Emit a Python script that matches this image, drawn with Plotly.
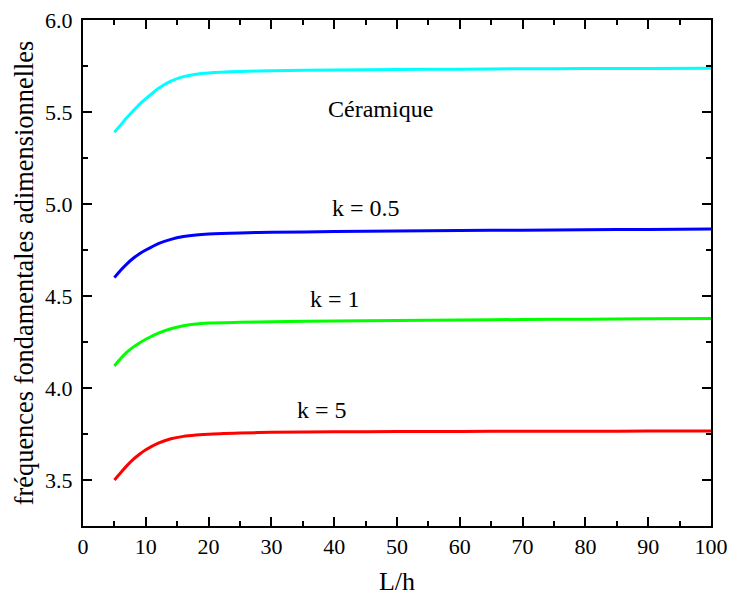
import plotly.graph_objects as go

L_h = [5, 6, 7, 8, 9, 10, 12, 14, 16, 18, 20, 25, 30, 40, 50, 60, 70, 80, 90, 100]
ceramique = [5.39, 5.43, 5.47, 5.507, 5.542, 5.572, 5.628, 5.668, 5.692, 5.705, 5.712, 5.72, 5.724, 5.728, 5.731, 5.733, 5.735, 5.736, 5.737, 5.738]
k05 = [4.60, 4.64, 4.675, 4.705, 4.73, 4.75, 4.785, 4.808, 4.823, 4.832, 4.837, 4.843, 4.846, 4.850, 4.853, 4.856, 4.858, 4.860, 4.862, 4.864]
k1 = [4.12, 4.16, 4.195, 4.222, 4.245, 4.265, 4.298, 4.322, 4.338, 4.348, 4.353, 4.357, 4.360, 4.364, 4.367, 4.370, 4.372, 4.374, 4.376, 4.378]
k5 = [3.50, 3.54, 3.578, 3.612, 3.64, 3.664, 3.70, 3.724, 3.737, 3.744, 3.749, 3.755, 3.759, 3.762, 3.763, 3.764, 3.765, 3.765, 3.766, 3.766]

series = [("Céramique", ceramique, "#00FFFF"), ("k = 0.5", k05, "#0000FF"),
          ("k = 1", k1, "#00FF00"), ("k = 5", k5, "#FF0000")]

labels = ["Céramique", "k = 0.5", "k = 1", "k = 5"]
label_x = [47.3, 45.1, 40.2, 38.1]
label_y = [5.516, 4.978, 4.484, 3.88]

FONT = "Liberation Serif"

fig = go.Figure()
for name, ys, col in series:
    fig.add_trace(go.Scatter(x=L_h, y=ys, mode="lines", name=name,
                             line=dict(color=col, width=3, shape="spline", smoothing=0.8)))

for t, x, y in zip(labels, label_x, label_y):
    fig.add_annotation(x=x, y=y, text=t, showarrow=False,
                       font=dict(family=FONT, size=24, color="black"))

axis_common = dict(showline=True, linecolor="black", linewidth=2, mirror="ticks",
                   ticks="inside", ticklen=9, tickwidth=1.5, tickcolor="black",
                   showgrid=False, zeroline=False, automargin=False,
                   tickfont=dict(family=FONT, size=22, color="black"))

fig.update_xaxes(range=[0, 100], tickmode="linear", tick0=0, dtick=10,
                 minor=dict(ticks="inside", ticklen=5, dtick=5, tickcolor="black", tickwidth=1.5),
                 ticklabelstandoff=0,
                 title=dict(text="L/h", font=dict(family=FONT, size=26, color="black"), standoff=18),
                 **axis_common)
fig.update_yaxes(range=[3.25, 6.0], tickmode="linear", tick0=3.5, dtick=0.5, tickformat=".1f",
                 minor=dict(ticks="inside", ticklen=5, dtick=0.25, tickcolor="black", tickwidth=1.5),
                 ticklabelstandoff=4,
                 title=dict(text="fréquences fondamentales adimensionnelles",
                            font=dict(family=FONT, size=26.4, color="black"), standoff=4),
                 **axis_common)

fig.update_layout(width=729, height=596, showlegend=False,
                  font=dict(family=FONT),
                  plot_bgcolor="white", paper_bgcolor="white",
                  margin=dict(l=83, r=18, t=20, b=70))

fig.write_html("out.html")
